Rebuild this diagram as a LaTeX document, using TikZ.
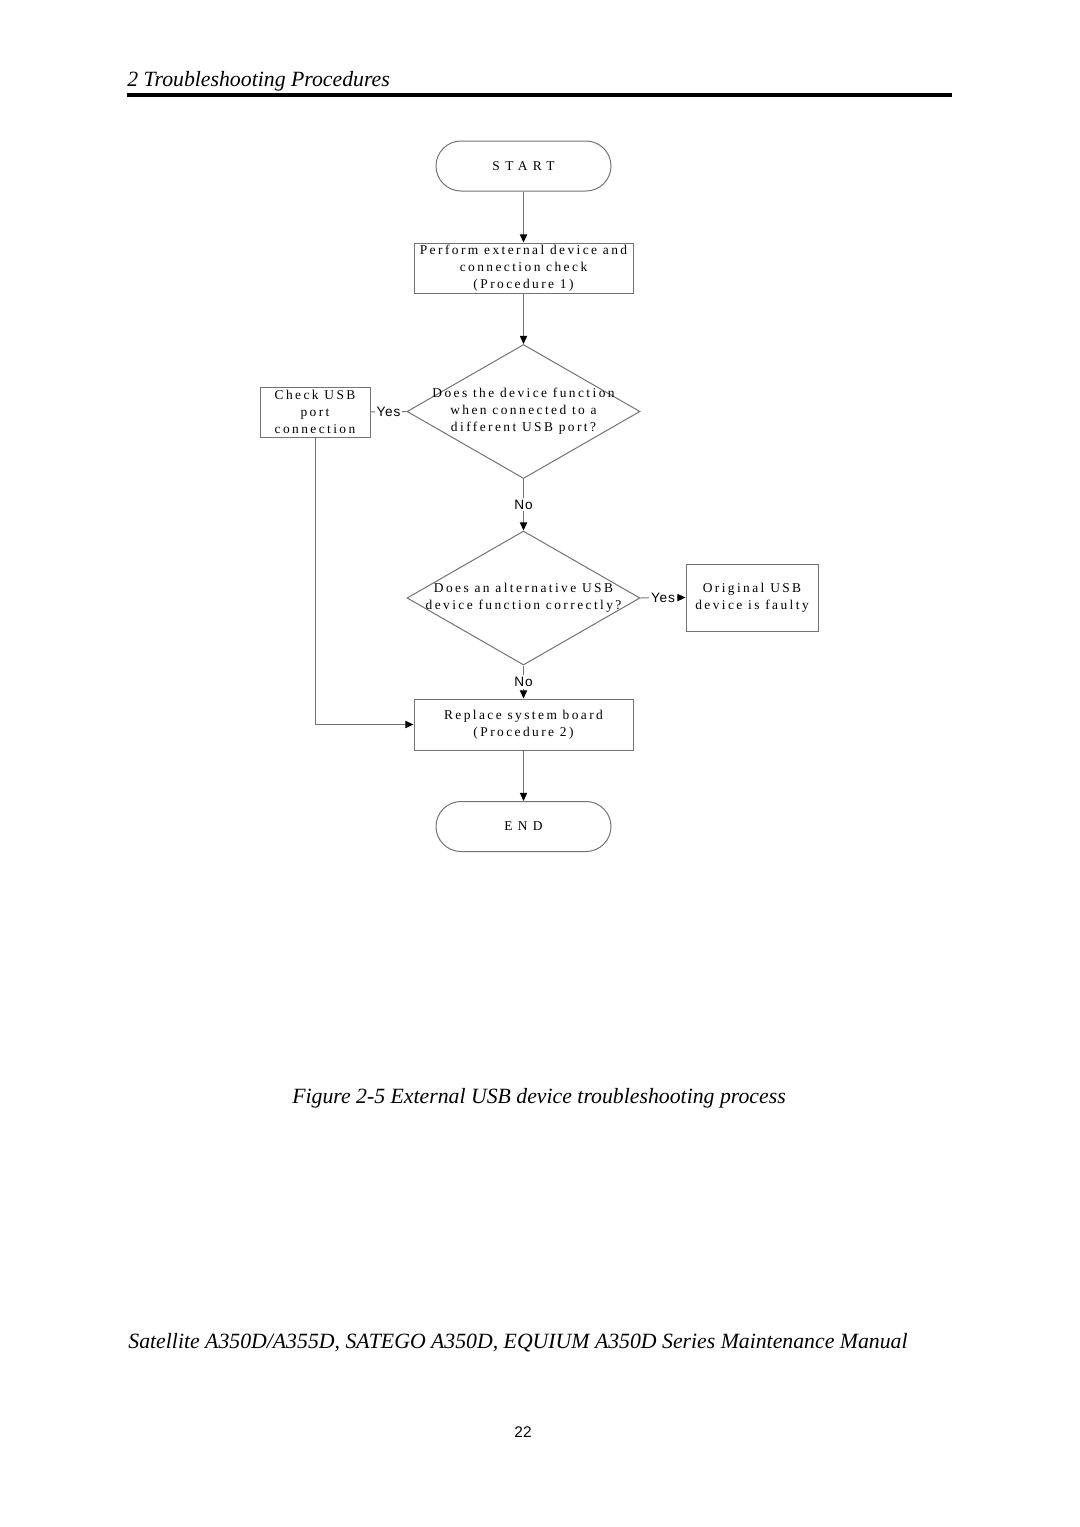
\documentclass[tikz,border=0pt]{standalone}
\usepackage{fontspec}
\setmainfont{Liberation Serif}
\setsansfont{Liberation Sans}
\newfontfamily\flowfont[LetterSpace=18]{Liberation Serif}
\newfontfamily\termfont[LetterSpace=40]{Liberation Serif}
\newfontfamily\ynfont[LetterSpace=6]{Liberation Sans}
\usetikzlibrary{shapes.geometric,arrows.meta}
\newcommand{\PX}{0.5512pt}
\begin{document}
\begin{tikzpicture}[x=0.5512pt,y=-0.5512pt,
  ln/.style={draw=black!55, line width=0.55pt},
  proc/.style={ln, rectangle, inner sep=0pt, align=center, font=\flowfont\fontsize{7.4}{9.4}\selectfont},
  term/.style={proc, rounded corners=13.78pt, minimum width=175*\PX, minimum height=50*\PX, font=\termfont\fontsize{7.4}{9.4}\selectfont},
  dia/.style={ln, diamond, inner sep=0pt, minimum width=233*\PX, minimum height=134*\PX},
  dtext/.style={align=center, inner sep=0pt, font=\flowfont\fontsize{7.4}{9.4}\selectfont},
  arr/.style={ln, -{Triangle[length=4.5pt,width=4pt,color=black]}},
  yn/.style={fill=white, inner sep=1pt, font=\ynfont\fontsize{7.5}{9}\selectfont},
  pagetext/.style={inner sep=0pt, font=\itshape\fontsize{12}{14}\selectfont}]
\useasboundingbox (0,0) rectangle (1080,1527);
\fill[white] (0,0) rectangle (1080,1527);

% header
\node[pagetext, anchor=base west] (hdr) at (127,86) {2 Troubleshooting Procedures};
\coordinate (ruleL) at (127,95);
\coordinate (ruleR) at (952,95);
\draw[line width=4*\PX] (ruleL) -- (ruleR);

% flowchart
\node[term] (start) at (523.5,166) {START};
\node[proc, minimum width=219*\PX, minimum height=50*\PX] (b1) at (523.5,268)
  {Perform external device and\\connection check\\(Procedure 1)};
\node[dia] (d1) at (523.5,411.5) {};
\node[dtext] (d1t) at (d1.center) {Does the device function\\when connected to a\\different USB port?};
\node[proc, minimum width=110*\PX, minimum height=50*\PX] (chk) at (315,412)
  {Check USB\\port\\connection};
\node[dia] (d2) at (523.5,598) {};
\node[dtext] (d2t) at (d2.center) {Does an alternative USB\\device function correctly?};
\node[proc, minimum width=132*\PX, minimum height=67*\PX] (orig) at (752,597.5)
  {Original USB\\device is faulty};
\node[proc, minimum width=219*\PX, minimum height=51*\PX] (b3) at (523.5,724.5)
  {Replace system board\\(Procedure 2)};
\node[term] (end) at (523.5,826.5) {END};

\draw[arr] (start.south) -- (b1.north);
\draw[arr] (b1.south) -- (d1.north);
\draw[ln] (d1.west) -- node[yn]{Yes} (chk.east);
\draw[arr] (d1.south) -- node[yn]{No} (d2.north);
\draw[arr] (d2.east) -- node[yn]{Yes} (orig.west);
\draw[arr] (d2.south) -- node[yn]{No} (b3.north);
\draw[arr] (chk.south) |- (b3.west);
\draw[arr] (b3.south) -- (end.north);

% caption and footer
\node[pagetext, anchor=base] (cap) at (539,1103) {Figure 2-5 External USB device troubleshooting process};
\node[pagetext, anchor=base] (foot) at (518,1348) {Satellite A350D/A355D, SATEGO A350D, EQUIUM A350D Series Maintenance Manual};
\node[anchor=base, inner sep=0pt, font=\sffamily\fontsize{8.5}{10}\selectfont] (pg) at (523,1437) {22};
\end{tikzpicture}
\end{document}
